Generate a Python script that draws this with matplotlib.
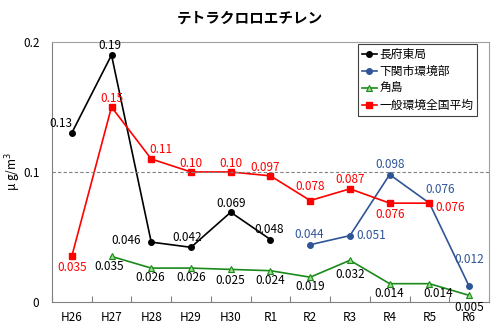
import matplotlib
matplotlib.use("Agg")
import matplotlib.pyplot as plt
import numpy as np

plt.rcParams['font.family'] = ['Noto Sans CJK JP', 'DejaVu Sans']

years = ["H26", "H27", "H28", "H29", "H30", "R1", "R2", "R3", "R4", "R5", "R6"]
chofu = [0.13, 0.19, 0.046, 0.042, 0.069, 0.048, None, None, None, None, None]
shimonoseki = [None, None, None, None, None, None, 0.044, 0.051, 0.098, 0.076, 0.012]
tsunoshima = [None, 0.035, 0.026, 0.026, 0.025, 0.024, 0.019, 0.032, 0.014, 0.014, 0.005]
national = [0.035, 0.15, 0.11, 0.10, 0.10, 0.097, 0.078, 0.087, 0.076, 0.076, None]

chofu_lbl = ["0.13", "0.19", "0.046", "0.042", "0.069", "0.048"]
shim_lbl = ["0.044", "0.051", "0.098", "0.076", "0.012"]
tsuno_lbl = ["0.035", "0.026", "0.026", "0.025", "0.024", "0.019", "0.032", "0.014", "0.014", "0.005"]
nat_lbl = ["0.035", "0.15", "0.11", "0.10", "0.10", "0.097", "0.078", "0.087", "0.076", "0.076"]

BLUE = "#2F5597"
GREEN = "#1A8A1A"
RED = "#FF0000"

def arr(v):
    return np.array([np.nan if x is None else x for x in v], dtype=float)

x = np.arange(len(years))

fig = plt.figure(figsize=(4.99, 3.26), dpi=100)
ax = fig.add_axes([0.104, 0.074, 0.876, 0.797])

ax.plot(x, arr(chofu), color="black", lw=1.2, marker="o", ms=4, label="長府東局")
ax.plot(x, arr(shimonoseki), color=BLUE, lw=1.2, marker="o", ms=4, label="下関市環境部")
ax.plot(x, arr(tsunoshima), color=GREEN, lw=1.2, marker="^", ms=4.5,
        mfc="#9BD88A", mec=GREEN, mew=0.8, label="角島")
ax.plot(x, arr(national), color=RED, lw=1.2, marker="s", ms=4.5, label="一般環境全国平均")

ax.axhline(0.1, color="#808080", lw=0.8, ls=(0, (3, 2)))

def put_labels(vals, labels, color, offs):
    pts = [(i, v) for i, v in enumerate(vals) if v is not None]
    for (i, v), t, o in zip(pts, labels, offs):
        ax.annotate(t, (i, v), xytext=o, textcoords="offset points",
                    ha="center", va="center", color=color, fontsize=8.5)

put_labels(chofu, chofu_lbl, "black",
           [(-8, 7), (-1, 7), (-18, 1), (-3, 7), (0, 6), (-1, 7)])
put_labels(shimonoseki, shim_lbl, BLUE,
           [(-1, 7), (15, 0), (0, 7), (8, 10), (0, 19)])
put_labels(tsunoshima, tsuno_lbl, "black",
           [(-2, -7), (-1, -7), (0, -7), (0, -8), (0, -7), (0, -7), (0, -10), (0, -7), (6, -7), (0, -9)])
put_labels(national, nat_lbl, RED,
           [(0, -8), (0, 6), (7, 7), (0, 6), (0, 6), (-4, 6), (0, 10), (0, 7), (0, -8), (15, -3)])

ax.set_xlim(-0.5, len(years) - 0.5)
ax.set_ylim(0, 0.2)
ax.set_yticks([0, 0.1, 0.2])
ax.set_yticklabels(["0", "0.1", "0.2"])
ax.tick_params(axis="y", length=0, pad=9, labelsize=8.5)

ax.set_xticks(np.arange(len(years) + 1) - 0.5)
ax.set_xticklabels([])
ax.tick_params(axis="x", which="major", direction="in", length=4, color="#808080")
ax.set_xticks(x, minor=True)
ax.set_xticklabels(years, minor=True)
ax.tick_params(axis="x", which="minor", length=0, pad=6.5, labelsize=8.5)

for s in ["top", "right"]:
    ax.spines[s].set_color("#A0A0A0")
for s in ["left", "bottom"]:
    ax.spines[s].set_color("#808080")

ax.set_ylabel("μ g/m$^3$", fontsize=8.5)
ax.yaxis.set_label_coords(-0.065, 0.5)

fig.text(0.5, 0.947, "テトラクロロエチレン", ha="center", va="center",
         fontsize=10.5, fontweight="bold")

leg = ax.legend(loc="upper right", bbox_to_anchor=(0.972, 0.992), fontsize=8.5,
                fancybox=False, framealpha=1, edgecolor="#404040",
                handlelength=1.3, handletextpad=0.2, borderpad=0.3,
                labelspacing=0.35, borderaxespad=0)
leg.get_frame().set_linewidth(0.8)

fig.savefig("out.png", dpi=100)
